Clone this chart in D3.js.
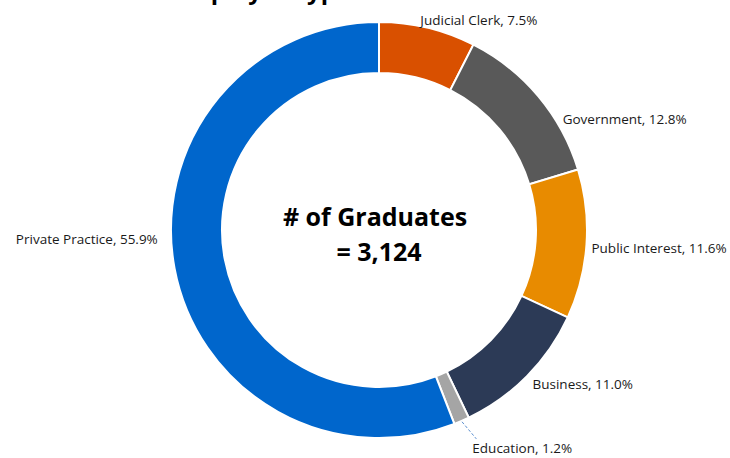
<!DOCTYPE html>
<html>
<head>
<meta charset="utf-8">
<script src="https://cdn.jsdelivr.net/npm/d3@7"></script>
<style>
  body { margin: 0; background: #ffffff; }
  text { font-family: "Open Sans", "Noto Sans", sans-serif; }
</style>
</head>
<body>
<div id="plot-employer"></div>
<script>
// Define SVG area dimensions
var svgWidth = 730;
var svgHeight = 458;

// Chart data, clockwise from 12 o'clock
var categories = ["Judicial Clerk", "Government", "Public Interest", "Business", "Education", "Private Practice"];
var shares = [7.5, 12.8, 11.6, 11.0, 1.2, 55.9];
var sliceColors = ["#D95000", "#595959", "#E88B00", "#2C3A56", "#A5A5A5", "#0066CC"];
var totalGraduates = 3124;

// Manual label moves (dx, dy) on top of the default outside position
var labelNudge = [[-10, 4], [15, 31], [-7, 3], [-3, 0], [6, 16], [-5, -31]];

// Donut geometry
var cx = 379;
var cy = 230;
var outerRadius = 208;
var innerRadius = 157;
var labelRadius = 220;

// Select the div, append SVG area to it, and set its dimensions
var svg = d3.select("#plot-employer")
  .append("svg")
  .attr("width", svgWidth)
  .attr("height", svgHeight);

// Title, mostly cut off at the top of the frame
svg.append("text")
  .attr("x", 262)
  .attr("y", -1)
  .attr("text-anchor", "middle")
  .style("font-size", "24px")
  .style("font-weight", "bold")
  .attr("fill", "#000")
  .text("Employer Type");

var chartGroup = svg.append("g")
  .attr("transform", `translate(${cx}, ${cy})`);

// Build the data rows from the arrays
var rows = categories.map(function(name, i) {
  return { name: name, value: shares[i], color: sliceColors[i], nudge: labelNudge[i] };
});

var pie = d3.pie()
  .sort(null)
  .value(d => d.value);

var arc = d3.arc()
  .innerRadius(innerRadius)
  .outerRadius(outerRadius);

var arcs = pie(rows);

// Slices
chartGroup.selectAll(".slice")
  .data(arcs)
  .enter()
  .append("path")
  .attr("class", "slice")
  .attr("d", arc)
  .attr("fill", d => d.data.color)
  .attr("stroke", "#ffffff")
  .attr("stroke-width", 2);

// Label positions along the middle angle of each slice
function midAngle(d) {
  return (d.startAngle + d.endAngle) / 2;
}

function labelPos(d) {
  var a = midAngle(d);
  return [labelRadius * Math.sin(a) + d.data.nudge[0], -labelRadius * Math.cos(a) + d.data.nudge[1]];
}

// Leader line for the small Education slice
var smallSlices = arcs.filter(d => d.data.value < 2);
chartGroup.selectAll(".leader")
  .data(smallSlices)
  .enter()
  .append("line")
  .attr("class", "leader")
  .attr("x1", d => (outerRadius + 1) * Math.sin(midAngle(d)))
  .attr("y1", d => -(outerRadius + 1) * Math.cos(midAngle(d)))
  .attr("x2", d => labelPos(d)[0] + 4)
  .attr("y2", d => labelPos(d)[1] - 9)
  .attr("stroke", "#5B8FD0")
  .attr("stroke-width", 1)
  .attr("stroke-dasharray", "3,2");

// Data labels
chartGroup.selectAll(".slice-label")
  .data(arcs)
  .enter()
  .append("text")
  .attr("class", "slice-label")
  .attr("x", d => labelPos(d)[0])
  .attr("y", d => labelPos(d)[1])
  .attr("dy", "0.35em")
  .attr("text-anchor", d => midAngle(d) > Math.PI ? "end" : "start")
  .style("font-size", "13.5px")
  .attr("fill", "#1a1a1a")
  .text(d => `${d.data.name}, ${d3.format(".1f")(d.data.value)}%`);

// Centre text
chartGroup.append("text")
  .attr("x", -4)
  .attr("y", -4)
  .attr("text-anchor", "middle")
  .style("font-size", "25px")
  .style("font-weight", "bold")
  .attr("fill", "#000")
  .text("# of Graduates");

chartGroup.append("text")
  .attr("x", 0)
  .attr("y", 31)
  .attr("text-anchor", "middle")
  .style("font-size", "25px")
  .style("font-weight", "bold")
  .attr("fill", "#000")
  .text("= " + d3.format(",")(totalGraduates));
</script>
</body>
</html>
